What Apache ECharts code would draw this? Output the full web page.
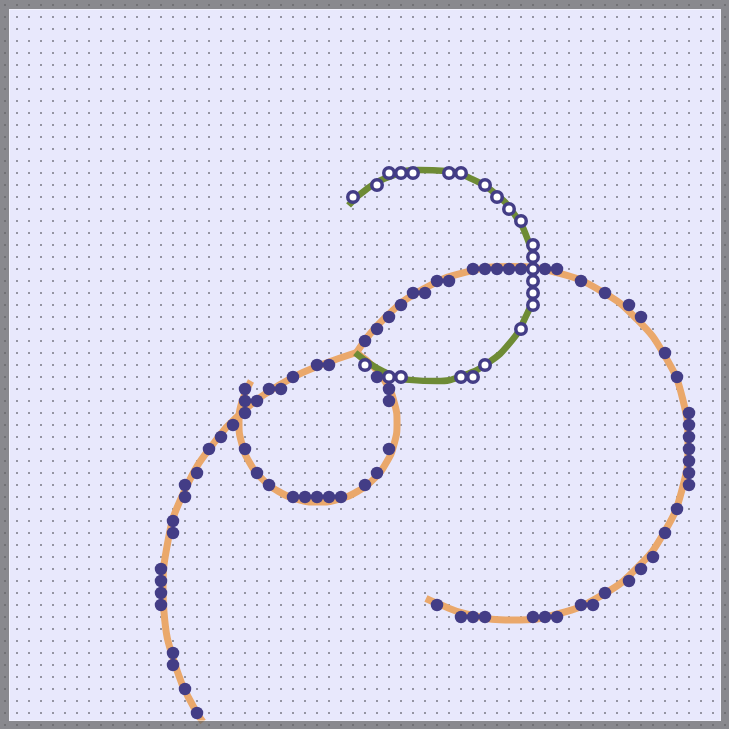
<!DOCTYPE html>
<html>
<head>
<meta charset="utf-8">
<script src="https://cdn.jsdelivr.net/npm/echarts@6/dist/echarts.min.js"></script>
<style>
  html, body { margin: 0; padding: 0; background: #e8e8fc; }
  #chart { width: 729px; height: 729px; }
</style>
</head>
<body>
<div id="chart"></div>
<script>
// grid units: one unit = one dot of the background lattice
const orangeArcOuter = [
    [16.5, 59.75], [15.83, 58.71], [14.37, 55.56], [13.24, 50.48], [13.17, 48.75],
    [13.47, 45.29], [15.03, 40.33], [17.83, 35.94], [19.75, 33.95], [21.66, 32.43],
    [24.04, 31.0], [26.25, 30.03], [29.29, 28.96]
];
const orangeArcBig = [
    [29.29, 28.96], [31.7, 26.03], [34.81, 23.7], [38.41, 22.26], [42.25, 21.79],
    [46.07, 22.33], [49.63, 23.81], [52.65, 26.18], [54.98, 29.23], [56.46, 32.78],
    [56.92, 36.58], [56.42, 40.38], [54.95, 43.92], [52.62, 46.95], [49.58, 49.28],
    [46.05, 50.75], [42.25, 51.25], [38.45, 50.75], [36.05, 49.88], [35.08, 49.46]
];
const orangeLoop = [
    [29.29, 28.96], [30.74, 30.18], [31.78, 31.54], [32.44, 33.13], [32.67, 34.83],
    [32.44, 36.53], [31.78, 38.13], [30.74, 39.49], [29.38, 40.53], [27.78, 41.19],
    [26.08, 41.42], [24.38, 41.19], [22.79, 40.53], [21.43, 39.49], [20.38, 38.13],
    [19.73, 36.53], [19.5, 34.83], [19.73, 33.13], [20.5, 31.34]
];
const greenArc = [
    [28.63, 16.69], [30.18, 15.31], [32.23, 14.24], [34.48, 13.74], [36.78, 13.84],
    [38.98, 14.53], [40.93, 15.78], [42.48, 17.48], [43.55, 19.52], [44.05, 21.78],
    [43.95, 24.08], [43.25, 26.28], [42.02, 28.22], [40.32, 29.78], [38.28, 30.84],
    [36.02, 31.34], [33.72, 31.24], [31.52, 30.54], [29.19, 28.98]
];
const orangeDots = [
    [16, 59], [15, 57], [14, 55], [14, 54], [13, 50], [13, 49], [13, 48], [13, 47],
    [14, 44], [14, 43], [15, 41], [15, 40], [16, 39], [17, 37], [18, 36], [19, 35],
    [20, 34], [20, 33], [21, 33], [22, 32], [23, 32], [24, 31], [26, 30], [27, 30],
    [30, 28], [31, 27], [32, 26], [33, 25], [34, 24], [35, 24], [36, 23], [37, 23],
    [39, 22], [40, 22], [41, 22], [42, 22], [43, 22], [44, 22], [45, 22], [46, 22],
    [48, 23], [50, 24], [52, 25], [53, 26], [55, 29], [56, 31], [57, 34], [57, 35],
    [57, 36], [57, 37], [57, 38], [57, 39], [57, 40], [56, 42], [55, 44], [54, 46],
    [53, 47], [52, 48], [50, 49], [49, 50], [48, 50], [46, 51], [45, 51], [44, 51],
    [40, 51], [39, 51], [38, 51], [36, 50],
    [31, 31], [32, 32], [32, 33], [32, 37], [31, 39], [30, 40], [28, 41], [27, 41],
    [26, 41], [25, 41], [24, 41], [22, 40], [21, 39], [20, 37], [20, 32]
];
const greenRings = [
    [29, 16], [31, 15], [32, 14], [33, 14], [34, 14], [37, 14], [38, 14], [40, 15],
    [41, 16], [42, 17], [43, 18], [44, 20], [44, 21], [44, 22], [44, 23], [44, 24],
    [44, 25], [43, 27], [40, 30], [39, 31], [38, 31], [33, 31], [32, 31], [30, 30]
];

const orange = '#eaa86b';
const green = '#6e8b35';
const purple = '#433d86';

// dotted lattice tile, 12px
const tile = document.createElement('canvas');
tile.width = 12;
tile.height = 12;
const tctx = tile.getContext('2d');
tctx.fillStyle = '#e8e8fc';
tctx.fillRect(0, 0, 12, 12);
tctx.fillStyle = '#9494a2';
tctx.fillRect(4, 4, 2, 2);

function arcSeries(data, color, width) {
    return {
        type: 'line',
        data: data,
        smooth: true,
        symbol: 'none',
        silent: true,
        lineStyle: { color: color, width: width, cap: 'butt', join: 'miter' },
        z: 2
    };
}

const chart = echarts.init(document.getElementById('chart'));
chart.setOption({
    animation: false,
    backgroundColor: '#e8e8fc',
    grid: { left: 5, top: 5, width: 720, height: 720 },
    xAxis: { type: 'value', min: 0, max: 60, show: false },
    yAxis: { type: 'value', min: 0, max: 60, inverse: true, show: false },
    graphic: [
        {
            type: 'rect', z: -10, silent: true,
            shape: { x: 0, y: 0, width: 729, height: 729 },
            style: { fill: { image: tile, repeat: 'repeat' } }
        },
        {
            type: 'rect', z: 100, silent: true,
            shape: { x: 4.5, y: 4.5, width: 721, height: 721 },
            style: { fill: 'transparent', stroke: 'rgba(100,100,100,0.72)', lineWidth: 9 }
        },
        {
            type: 'rect', z: 100, silent: true,
            shape: { x: 9.5, y: 9.5, width: 711, height: 711 },
            style: { fill: 'transparent', stroke: 'rgba(255,255,255,0.45)', lineWidth: 1 }
        }
    ],
    series: [
        arcSeries(orangeArcOuter, orange, 7),
        arcSeries(orangeArcBig, orange, 7),
        arcSeries(orangeLoop, orange, 7),
        arcSeries(greenArc, green, 6.5),
        {
            type: 'scatter',
            data: orangeDots,
            symbolSize: 12.5,
            silent: true,
            itemStyle: { color: purple, opacity: 1 },
            z: 3
        },
        {
            type: 'scatter',
            data: greenRings,
            symbolSize: 10.5,
            silent: true,
            itemStyle: { color: '#ffffff', borderColor: purple, borderWidth: 3.5, opacity: 1 },
            z: 4
        }
    ]
});
</script>
</body>
</html>
